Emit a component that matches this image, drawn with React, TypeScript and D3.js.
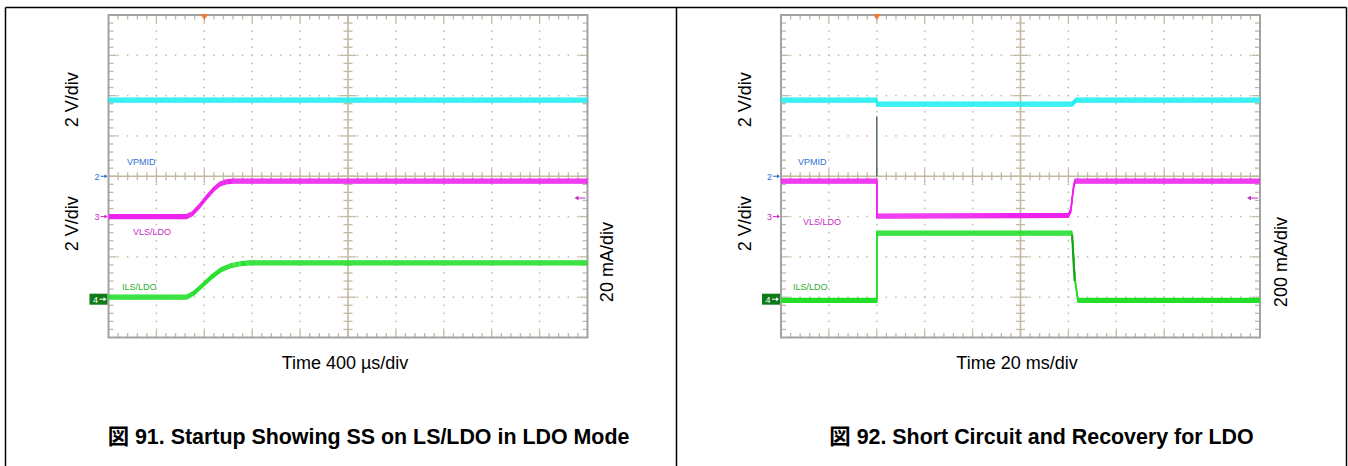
import React from 'react';
import * as d3 from 'd3';

const W = 1348;
const H = 466;

// Oscilloscope screen: 10 horizontal divisions (time), 8 vertical divisions (level, 0 = centre line)
const timeDomain = [0, 10];
const levelDomain = [-4, 4];

// ---- 図 91 (Startup, 400 µs/div) : time [div], level [div] ----
const fig91VpmidT = [0, 10];
const fig91VpmidV = [1.89, 1.89];
const fig91VlsT = [0, 1.63, 1.75, 1.9, 2.05, 2.2, 2.32, 2.45, 2.6, 10];
const fig91VlsV = [-1.0, -1.0, -0.93, -0.74, -0.52, -0.32, -0.2, -0.14, -0.12, -0.12];
const fig91IlsT = [0, 1.63, 1.78, 1.95, 2.15, 2.35, 2.55, 2.75, 2.95, 10];
const fig91IlsV = [-3.0, -3.0, -2.9, -2.72, -2.5, -2.32, -2.22, -2.17, -2.15, -2.15];

// ---- 図 92 (Short circuit, 20 ms/div) ----
const fig92VpmidT = [0, 2.0, 2.0, 6.08, 6.16, 10];
const fig92VpmidV = [1.89, 1.89, 1.79, 1.79, 1.89, 1.89];
const fig92VlsT = [0, 2.0, 2.0, 6.0, 6.05, 6.08, 6.11, 6.14, 10];
const fig92VlsV = [-0.12, -0.12, -0.99, -0.97, -0.85, -0.55, -0.25, -0.12, -0.12];
const fig92IlsT = [0, 2.0, 2.0, 6.07, 6.1, 6.14, 6.2, 10];
const fig92IlsV = [-3.08, -3.08, -1.41, -1.41, -1.8, -2.6, -3.08, -3.08];
const fig92SpikeT = [2.0, 2.0];
const fig92SpikeV = [1.48, 0.0];
const fig92RecoverT = [6.08, 6.1, 6.13];
const fig92RecoverV = [-1.45, -2.0, -2.6];

// Channel reference markers (level in div)
const channelNames = ['2', '3', '4'];
const channelLevels = [0, -1.0, -3.05];
const triggerTime = 2.0;
const rightMarkerLevel = -0.54;

// Labels and texts
const traceLabels = ['VPMID', 'VLS/LDO', 'ILS/LDO'];
const fig91Texts = {
  vdivTop: '2 V/div',
  vdivBottom: '2 V/div',
  idiv: '20 mA/div',
  time: 'Time 400 \u00B5s/div',
  title: '図 91. Startup Showing SS on LS/LDO in LDO Mode',
};
const fig92Texts = {
  vdivTop: '2 V/div',
  vdivBottom: '2 V/div',
  idiv: '200 mA/div',
  time: 'Time 20 ms/div',
  title: '図 92. Short Circuit and Recovery for LDO',
};

const CYAN = '#1eeef2';
const MAGENTA = '#ee22ee';
const GREEN = '#22e02a';
const GRID = '#c2b9a2';
const FRAME = '#a3a3a3';

const FONT = '"Liberation Sans", Arial, "Noto Sans CJK JP", sans-serif';

type PanelProps = {
  x0: number;
  x1: number;
  vpmid: [number[], number[]];
  vls: [number[], number[]];
  ils: [number[], number[]];
  spike?: [number[], number[]];
  recover?: [number[], number[]];
  texts: typeof fig91Texts;
  labelPos: { dx: number; y: number }[];
  leftLabelX: number;
  rightLabelX: number;
  timeX: number;
  titleX: number;
};

const Y0 = 15;
const Y1 = 337.5;

function zip(t: number[], v: number[]): [number, number][] {
  return t.map((d, i) => [d, v[i]]);
}

function Trace({ data, color, sx, sy }: { data: [number[], number[]]; color: string; sx: any; sy: any }) {
  const line = d3
    .line<[number, number]>()
    .x((d) => sx(d[0]))
    .y((d) => sy(d[1]));
  const d = line(zip(data[0], data[1])) || '';
  return (
    <g>
      {[-2, -1, 0, 1, 2].map((dy) => (
        <path key={dy} d={d} transform={`translate(0,${dy})`} fill="none" stroke={color} strokeWidth={1.2} />
      ))}
    </g>
  );
}

function Panel(p: PanelProps) {
  const sx = d3.scaleLinear().domain(timeDomain).range([p.x0, p.x1]);
  const sy = d3.scaleLinear().domain(levelDomain).range([Y1, Y0]);
  const fine = d3.range(0, 10.001, 0.2);
  const fineV = d3.range(-4, 4.001, 0.2);
  const isMajor = (v: number) => Math.abs(v - Math.round(v)) < 1e-6;

  const dots: JSX.Element[] = [];
  d3.range(1, 10).forEach((i) => {
    if (i === 5) return;
    fineV.forEach((v, k) => {
      if (k === 0 || k === fineV.length - 1) return;
      dots.push(<rect key={`v${i}-${k}`} x={sx(i) - 0.75} y={sy(v) - 0.75} width={1.5} height={1.5} fill={GRID} />);
    });
  });
  d3.range(-3, 4).forEach((j) => {
    if (j === 0) return;
    fine.forEach((t, k) => {
      if (k === 0 || k === fine.length - 1) return;
      dots.push(<rect key={`h${j}-${k}`} x={sx(t) - 0.75} y={sy(j) - 0.75} width={1.5} height={1.5} fill={GRID} />);
    });
  });

  const ticks: JSX.Element[] = [];
  fine.forEach((t, k) => {
    if (k === 0 || k === fine.length - 1) return;
    const len = isMajor(t) ? 7 : 4.5;
    const x = sx(t);
    ticks.push(<line key={`tt${k}`} x1={x} x2={x} y1={Y0} y2={Y0 + len} />);
    ticks.push(<line key={`tb${k}`} x1={x} x2={x} y1={Y1} y2={Y1 - len} />);
    const c = isMajor(t) ? 7 : 4;
    ticks.push(<line key={`tc${k}`} x1={x} x2={x} y1={sy(0) - c} y2={sy(0) + c} />);
  });
  fineV.forEach((v, k) => {
    if (k === 0 || k === fineV.length - 1) return;
    const len = isMajor(v) ? 8 : 5;
    const y = sy(v);
    ticks.push(<line key={`tl${k}`} x1={p.x0} x2={p.x0 + len} y1={y} y2={y} />);
    ticks.push(<line key={`tr${k}`} x1={p.x1} x2={p.x1 - len} y1={y} y2={y} />);
    const c = isMajor(v) ? 8 : 4.5;
    ticks.push(<line key={`tm${k}`} x1={sx(5) - c} x2={sx(5) + c} y1={y} y2={y} />);
  });

  const chColors = ['#2f6fd0', '#d028c8', '#0f7a1a'];
  const trigX = sx(triggerTime);
  const rmY = sy(rightMarkerLevel);
  const labelColors = ['#2f6fd0', '#c82cc4', '#28b428'];
  const lineGen = d3.line<[number, number]>().x((d) => sx(d[0])).y((d) => sy(d[1]));

  return (
    <g>
      <rect x={p.x0} y={Y0} width={p.x1 - p.x0} height={Y1 - Y0} fill="#fff" />
      <g>{dots}</g>
      <g stroke={GRID} strokeWidth={1.3}>
        <line x1={sx(5)} x2={sx(5)} y1={Y0} y2={Y1} strokeWidth={1.6} />
        <line x1={p.x0} x2={p.x1} y1={sy(0)} y2={sy(0)} strokeWidth={1.4} />
        {ticks}
      </g>
      <rect x={p.x0} y={Y0} width={p.x1 - p.x0} height={Y1 - Y0} fill="none" stroke={FRAME} strokeWidth={2} />

      {/* traces */}
      <Trace data={p.vpmid} color={CYAN} sx={sx} sy={sy} />
      <Trace data={p.ils} color={GREEN} sx={sx} sy={sy} />
      <Trace data={p.vls} color={MAGENTA} sx={sx} sy={sy} />
      {p.spike && (
        <path d={lineGen(zip(p.spike[0], p.spike[1])) || ''} stroke="#5e7260" strokeWidth={1.6} fill="none" />
      )}
      {p.recover && (
        <path d={lineGen(zip(p.recover[0], p.recover[1])) || ''} stroke="#16a01c" strokeWidth={2} fill="none" />
      )}

      {/* trigger marker */}
      <path d={`M${trigX - 4},${Y0 - 1} L${trigX + 4},${Y0 - 1} L${trigX},${Y0 + 5} Z`} fill="#f07838" />

      {/* channel markers */}
      {channelNames.map((n, i) => {
        const y = sy(channelLevels[i]);
        if (n === '4') {
          return (
            <g key={n}>
              <rect x={p.x0 - 19} y={y - 5.5} width={18} height={11} fill={chColors[i]} />
              <text x={p.x0 - 15.5} y={y + 3.5} fontSize={9} fill="#fff" fontFamily={FONT}>
                {n}
              </text>
              <line x1={p.x0 - 9} x2={p.x0 - 3} y1={y} y2={y} stroke="#fff" strokeWidth={1} />
              <path d={`M${p.x0 - 2},${y} L${p.x0 - 5},${y - 2} L${p.x0 - 5},${y + 2} Z`} fill="#fff" />
            </g>
          );
        }
        return (
          <g key={n}>
            <text x={p.x0 - 14} y={y + 3.5} fontSize={9} fill={chColors[i]} fontFamily={FONT}>
              {n}
            </text>
            <line x1={p.x0 - 8} x2={p.x0 - 3} y1={y} y2={y} stroke={chColors[i]} strokeWidth={1} />
            <path d={`M${p.x0 - 1},${y} L${p.x0 - 4},${y - 2} L${p.x0 - 4},${y + 2} Z`} fill={chColors[i]} />
          </g>
        );
      })}

      {/* right-side marker */}
      <line x1={p.x1 - 10} x2={p.x1 - 2} y1={rmY} y2={rmY} stroke="#c030c0" strokeWidth={1} />
      <path d={`M${p.x1 - 13},${rmY} L${p.x1 - 9},${rmY - 2.2} L${p.x1 - 9},${rmY + 2.2} Z`} fill="#c030c0" />

      {/* trace labels */}
      {traceLabels.map((l, i) => (
        <text key={l} x={p.x0 + p.labelPos[i].dx} y={p.labelPos[i].y} fontSize={9} fill={labelColors[i]} fontFamily={FONT}>
          {l}
        </text>
      ))}

      {/* axis texts */}
      <text
        transform={`translate(${p.leftLabelX},${sy(1.9)}) rotate(-90)`}
        textAnchor="middle"
        dominantBaseline="central"
        fontSize={18}
        fontFamily={FONT}
      >
        {p.texts.vdivTop}
      </text>
      <text
        transform={`translate(${p.leftLabelX},${sy(-1.18)}) rotate(-90)`}
        textAnchor="middle"
        dominantBaseline="central"
        fontSize={18}
        fontFamily={FONT}
      >
        {p.texts.vdivBottom}
      </text>
      <text
        transform={`translate(${p.rightLabelX},${sy(-2.13)}) rotate(-90)`}
        textAnchor="middle"
        dominantBaseline="central"
        fontSize={18}
        fontFamily={FONT}
      >
        {p.texts.idiv}
      </text>
      <text x={p.timeX} y={369} textAnchor="middle" fontSize={18} fontFamily={FONT}>
        {p.texts.time}
      </text>
      <text x={p.titleX} y={444} textAnchor="middle" fontSize={21.4} fontWeight="bold" fontFamily={FONT}>
        {p.texts.title}
      </text>
    </g>
  );
}

export default function App() {
  return (
    <svg
      width={W}
      height={H}
      viewBox={`0 0 ${W} ${H}`}
      style={{ position: 'absolute', left: 0, top: 0, background: '#fff' }}
    >
      <rect x={0} y={0} width={W} height={H} fill="#fff" />
      {/* outer document frame */}
      <g stroke="#000" strokeWidth={1.5} fill="none">
        <line x1={5.5} x2={1346.5} y1={7.5} y2={7.5} />
        <line x1={5.5} x2={5.5} y1={7.5} y2={H} />
        <line x1={676.5} x2={676.5} y1={7.5} y2={H} />
        <line x1={1346.5} x2={1346.5} y1={7.5} y2={H} />
      </g>
      <Panel
        x0={108.5}
        x1={587.5}
        vpmid={[fig91VpmidT, fig91VpmidV]}
        vls={[fig91VlsT, fig91VlsV]}
        ils={[fig91IlsT, fig91IlsV]}
        texts={fig91Texts}
        labelPos={[
          { dx: 18.5, y: 165 },
          { dx: 24.5, y: 235 },
          { dx: 13.5, y: 289.5 },
        ]}
        leftLabelX={72}
        rightLabelX={607}
        timeX={345}
        titleX={368.5}
      />
      <Panel
        x0={781}
        x1={1260}
        vpmid={[fig92VpmidT, fig92VpmidV]}
        vls={[fig92VlsT, fig92VlsV]}
        ils={[fig92IlsT, fig92IlsV]}
        spike={[fig92SpikeT, fig92SpikeV]}
        recover={[fig92RecoverT, fig92RecoverV]}
        texts={fig92Texts}
        labelPos={[
          { dx: 17, y: 165 },
          { dx: 22, y: 224.5 },
          { dx: 12, y: 289.5 },
        ]}
        leftLabelX={745}
        rightLabelX={1281}
        timeX={1017}
        titleX={1041.5}
      />
    </svg>
  );
}
